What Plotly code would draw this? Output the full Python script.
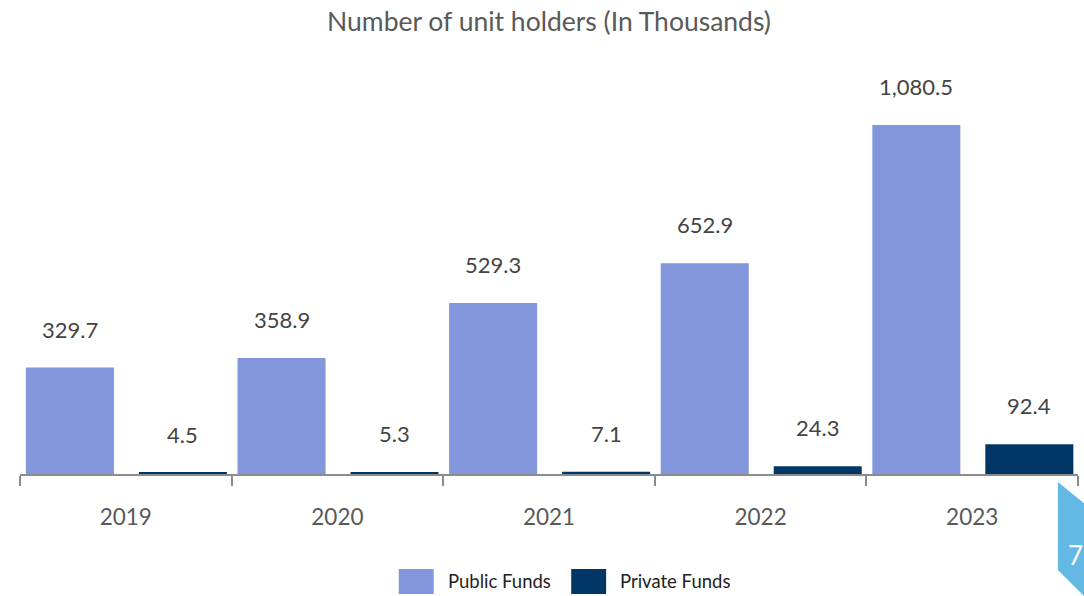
import plotly.graph_objects as go

# data (in thousands)
years = ["2019", "2020", "2021", "2022", "2023"]
public_funds = [329.7, 358.9, 529.3, 652.9, 1080.5]
private_funds = [4.5, 5.3, 7.1, 24.3, 92.4]

PUBLIC_COLOR = "#8396DC"
PRIVATE_COLOR = "#003764"
TEXT_COLOR = "#444444"
AXIS_COLOR = "#8c8c8c"
FONT = "Lato, 'Open Sans', sans-serif"

BAR_WIDTH = 0.416
PUBLIC_OFFSET = -0.472
PRIVATE_OFFSET = 0.062

x_pos = list(range(len(years)))

fig = go.Figure()

fig.add_trace(
    go.Bar(
        x=x_pos,
        y=public_funds,
        name="Public Funds",
        marker=dict(color=PUBLIC_COLOR, line=dict(width=0)),
        width=BAR_WIDTH,
        offset=PUBLIC_OFFSET,
        hovertemplate="%{y:,.1f}<extra>Public Funds</extra>",
    )
)
fig.add_trace(
    go.Bar(
        x=x_pos,
        y=private_funds,
        name="Private Funds",
        marker=dict(color=PRIVATE_COLOR, line=dict(width=0)),
        width=BAR_WIDTH,
        offset=PRIVATE_OFFSET,
        hovertemplate="%{y:,.1f}<extra>Private Funds</extra>",
    )
)

# value labels above bars
annotations = []
for series, offset in ((public_funds, PUBLIC_OFFSET), (private_funds, PRIVATE_OFFSET)):
    for i, v in enumerate(series):
        annotations.append(
            dict(
                x=i + offset + BAR_WIDTH / 2,
                y=v,
                xref="x",
                yref="y",
                text=f"{v:,.1f}",
                showarrow=False,
                yanchor="bottom",
                yshift=23,
                font=dict(family=FONT, size=22, color=TEXT_COLOR),
            )
        )

# manual legend labels
annotations += [
    dict(x=0.403, y=-0.265, xref="paper", yref="paper", text="Public Funds",
         showarrow=False, xanchor="left", yanchor="middle",
         font=dict(family=FONT, size=18.5, color="#222222")),
    dict(x=0.565, y=-0.265, xref="paper", yref="paper", text="Private Funds",
         showarrow=False, xanchor="left", yanchor="middle",
         font=dict(family=FONT, size=18.5, color="#222222")),
    # page number on the corner tab
    dict(x=1.0057, y=-0.2, xref="paper", yref="paper", text="7",
         showarrow=False, xanchor="right", yanchor="middle", borderpad=0,
         font=dict(family=FONT, size=26, color="white")),
]

shapes = [
    dict(type="rect", xref="paper", yref="paper", x0=0.358, x1=0.391,
         y0=-0.297, y1=-0.235, fillcolor=PUBLIC_COLOR, line=dict(width=0)),
    dict(type="rect", xref="paper", yref="paper", x0=0.521, x1=0.554,
         y0=-0.297, y1=-0.235, fillcolor=PRIVATE_COLOR, line=dict(width=0)),
    # page tab in the corner
    dict(type="path", xref="paper", yref="paper",
         path="M 0.981,-0.0198 L 1.0113,-0.0842 L 1.0113,-0.3168 L 0.981,-0.2376 Z",
         fillcolor="#63B8E4", line=dict(width=0), layer="below"),
]

fig.update_layout(
    title=dict(
        text="Number of unit holders (In Thousands)",
        x=0.5,
        xref="paper",
        y=0.963,
        yanchor="middle",
        font=dict(family=FONT, size=26.5, color="#595959"),
    ),
    barmode="overlay",
    showlegend=False,
    xaxis=dict(
        range=[-0.5, 4.5],
        tickvals=x_pos,
        ticktext=years,
        ticks="",
        ticklabelstandoff=22,
        showgrid=False,
        zeroline=False,
        showline=True,
        linecolor=AXIS_COLOR,
        linewidth=2,
        tickfont=dict(family=FONT, size=22.5, color="#595959"),
        minor=dict(
            tickvals=[i - 0.5 for i in range(len(years) + 1)],
            ticks="outside",
            ticklen=10,
            tickwidth=2,
            tickcolor=AXIS_COLOR,
            showgrid=False,
        ),
        fixedrange=True,
    ),
    yaxis=dict(
        range=[0, 1251],
        visible=False,
        showgrid=False,
        zeroline=False,
        fixedrange=True,
    ),
    annotations=annotations,
    shapes=shapes,
    margin=dict(l=20, r=6, t=70, b=122),
    width=1084,
    height=596,
    plot_bgcolor="white",
    paper_bgcolor="white",
)

fig.write_html(
    "out.html",
    config={"displayModeBar": False},
    post_script="document.body.style.margin='0';",
)
